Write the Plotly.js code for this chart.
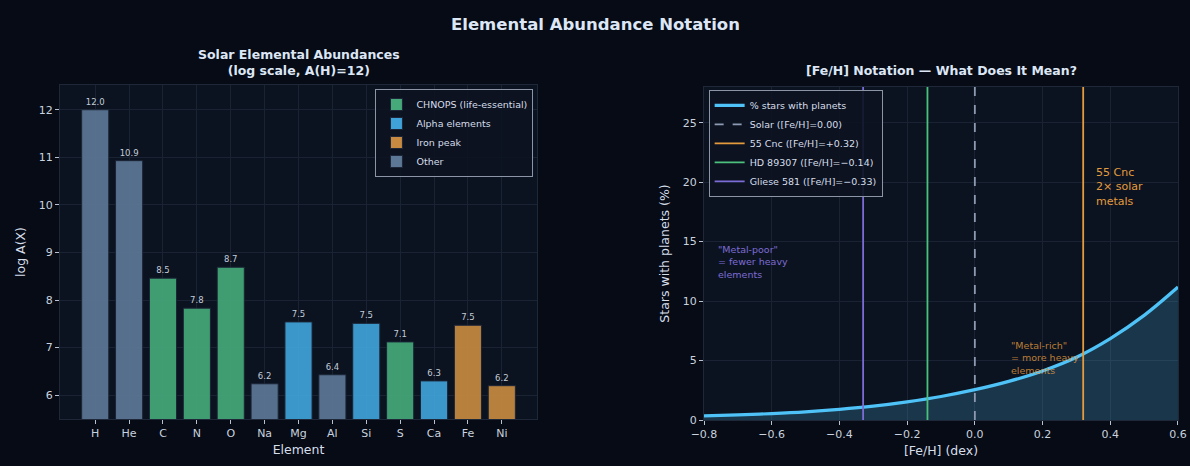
<!DOCTYPE html>
<html>
<head>
<meta charset="utf-8">
<script src="https://cdn.plot.ly/plotly-3.0.1.min.js"></script>
<style>html,body{margin:0;padding:0;background:#060b16;}#chart{width:1190px;height:466px;}</style>
</head>
<body>
<div id="chart"></div>
<script>
// ---- Data: left panel ----
const elements = ["H","He","C","N","O","Na","Mg","Al","Si","S","Ca","Fe","Ni"];
const abundances = [12.00,10.93,8.46,7.83,8.69,6.24,7.54,6.43,7.51,7.12,6.30,7.47,6.20];
const groups = ["Other","Other","CHNOPS","CHNOPS","CHNOPS","Other","Alpha","Other","Alpha","CHNOPS","Alpha","Iron","Iron"];
const groupNames = ["CHNOPS","Alpha","Iron","Other"];
const groupLabels = ["CHNOPS (life-essential)","Alpha elements","Iron peak","Other"];
const groupColors = ["#45a97a","#3fa3d9","#c78a40","#5d7796"];

// ---- Data: right panel ----
const feh = [-0.8,-0.7,-0.6,-0.5,-0.4,-0.3,-0.2,-0.1,0.0,0.1,0.2,0.3,0.4,0.5,0.6];
const pctPlanets = [0.34,0.43,0.54,0.69,0.90,1.17,1.53,1.98,2.55,3.25,4.13,5.28,6.85,8.80,11.18];
const starNames = ["Solar ([Fe/H]=0.00)","55 Cnc ([Fe/H]=+0.32)","HD 89307 ([Fe/H]=\u22120.14)","Gliese 581 ([Fe/H]=\u22120.33)"];
const starFeh = [0.00,0.32,-0.14,-0.33];
const starColors = ["#8d9bb2","#e39b3e","#4cc17e","#7c6cd6"];
const starDash = ["dash","solid","solid","solid"];
const yTop = 28;

const txt = "#c9d2df";
const titleCol = "#dde6f5";
const gridCol = "#1a2333";
const font = "DejaVu Sans, sans-serif";

const traces = [];
groupNames.forEach((g, gi) => {
  const xs = [], ys = [];
  elements.forEach((e, i) => { if (groups[i] === g) { xs.push(e); ys.push(abundances[i]); } });
  traces.push({
    type: "bar", x: xs, y: ys, name: groupLabels[gi], xaxis: "x", yaxis: "y",
    width: 0.8, marker: {color: groupColors[gi], opacity: 0.92, line: {color: "#1c2638", width: 1}},
    texttemplate: "%{y:.1f}", textposition: "outside", cliponaxis: false,
    textfont: {size: 8.5, color: "#c3ccd8", family: font},
    legend: "legend", hoverinfo: "x+y"
  });
});

// fill under curve
traces.push({
  type: "scatter", mode: "lines", x: feh, y: pctPlanets, xaxis: "x2", yaxis: "y2",
  line: {width: 0, shape: "spline", smoothing: 1}, fill: "tozeroy", fillcolor: "rgba(79,195,247,0.2)",
  showlegend: false, hoverinfo: "skip"
});
traces.push({
  type: "scatter", mode: "lines", x: feh, y: pctPlanets, xaxis: "x2", yaxis: "y2",
  line: {width: 3.2, color: "#4fc3f7", shape: "spline", smoothing: 1}, name: "% stars with planets", legend: "legend2"
});
starNames.forEach((n, i) => {
  traces.push({
    type: "scatter", mode: "lines", x: [starFeh[i], starFeh[i]], y: [0, yTop], xaxis: "x2", yaxis: "y2",
    line: {width: 1.8, color: starColors[i], dash: starDash[i]}, name: n, legend: "legend2"
  });
});

const axisCommon = {
  color: txt, tickfont: {size: 11, color: txt, family: font}, gridcolor: gridCol, gridwidth: 1,
  showline: true, linecolor: "#1e2838", linewidth: 1, mirror: true, zeroline: false,
  ticks: "outside", ticklen: 4, tickcolor: "#b8c1cf", tickwidth: 1
};

const layout = {
  width: 1190, height: 466,
  paper_bgcolor: "#060b16", plot_bgcolor: "#0c1320",
  margin: {l: 0, r: 0, t: 0, b: 0},
  font: {family: font, color: txt},
  barmode: "overlay",
  bargap: 0.2,
  xaxis: Object.assign({}, axisCommon, {
    domain: [0.0504, 0.4513], type: "category", categoryorder: "array", categoryarray: elements,
    range: [-1.04, 13.04], anchor: "y",
    title: {text: "Element", font: {size: 12.5, color: "#d6deea", family: font}, standoff: 6}
  }),
  yaxis: Object.assign({}, axisCommon, {
    domain: [0.1009, 0.8176], range: [5.5, 12.52], anchor: "x", dtick: 1,
    title: {text: "log A(X)", font: {size: 12.5, color: "#d6deea", family: font}, standoff: 10}
  }),
  xaxis2: Object.assign({}, axisCommon, {
    domain: [0.5916, 0.9899], range: [-0.8, 0.6], anchor: "y2", dtick: 0.2, tickformat: ".1f",
    title: {text: "[Fe/H] (dex)", font: {size: 12.5, color: "#d6deea", family: font}, standoff: 6}
  }),
  yaxis2: Object.assign({}, axisCommon, {
    domain: [0.0987, 0.8133], range: [0, yTop], anchor: "x2", dtick: 5,
    title: {text: "Stars with planets (%)", font: {size: 12.5, color: "#d6deea", family: font}, standoff: 10}
  }),
  legend: {
    x: 0.3155, y: 0.809, xanchor: "left", yanchor: "top",
    bgcolor: "rgba(12,19,32,0.9)", bordercolor: "#8c95a6", borderwidth: 1,
    font: {size: 9.5, color: "#d6deea", family: font}, tracegroupgap: 0, itemwidth: 30,
    traceorder: "normal"
  },
  legend2: {
    x: 0.5955, y: 0.807, xanchor: "left", yanchor: "top",
    bgcolor: "rgba(12,19,32,0.9)", bordercolor: "#8c95a6", borderwidth: 1,
    font: {size: 9.5, color: "#d6deea", family: font}, itemwidth: 30, traceorder: "normal"
  },
  annotations: [
    {text: "<b>Elemental Abundance Notation</b>", xref: "paper", yref: "paper", x: 0.5, y: 0.948,
     showarrow: false, font: {size: 16.5, color: titleCol, family: font}, xanchor: "center", yanchor: "middle"},
    {text: "<b>Solar Elemental Abundances</b><br><b>(log scale, A(H)=12)</b>", xref: "paper", yref: "paper",
     x: 0.251, y: 0.865, showarrow: false, font: {size: 12.5, color: titleCol, family: font},
     xanchor: "center", yanchor: "middle"},
    {text: "<b>[Fe/H] Notation \u2014 What Does It Mean?</b>", xref: "paper", yref: "paper",
     x: 0.791, y: 0.848, showarrow: false, font: {size: 12.5, color: titleCol, family: font},
     xanchor: "center", yanchor: "middle"},
    {text: "\"Metal-poor\"<br>= fewer heavy<br>elements", xref: "x2", yref: "y2", x: -0.765, y: 13.3,
     showarrow: false, align: "left", xanchor: "left", yanchor: "middle",
     font: {size: 9.5, color: "#7c6cd6", family: font}},
    {text: "55 Cnc<br>2\u00d7 solar<br>metals", xref: "x2", yref: "y2", x: 0.352, y: 19.6,
     showarrow: false, align: "left", xanchor: "left", yanchor: "middle",
     font: {size: 11, color: "#e39b3e", family: font}},
    {text: "\"Metal-rich\"<br>= more heavy<br>elements", xref: "x2", yref: "y2", x: 0.102, y: 5.2,
     showarrow: false, align: "left", xanchor: "left", yanchor: "middle",
     font: {size: 9.5, color: "rgba(227,155,62,0.8)", family: font}}
  ]
};

Plotly.newPlot("chart", traces, layout, {displayModeBar: false, staticPlot: true});
</script>
</body>
</html>
